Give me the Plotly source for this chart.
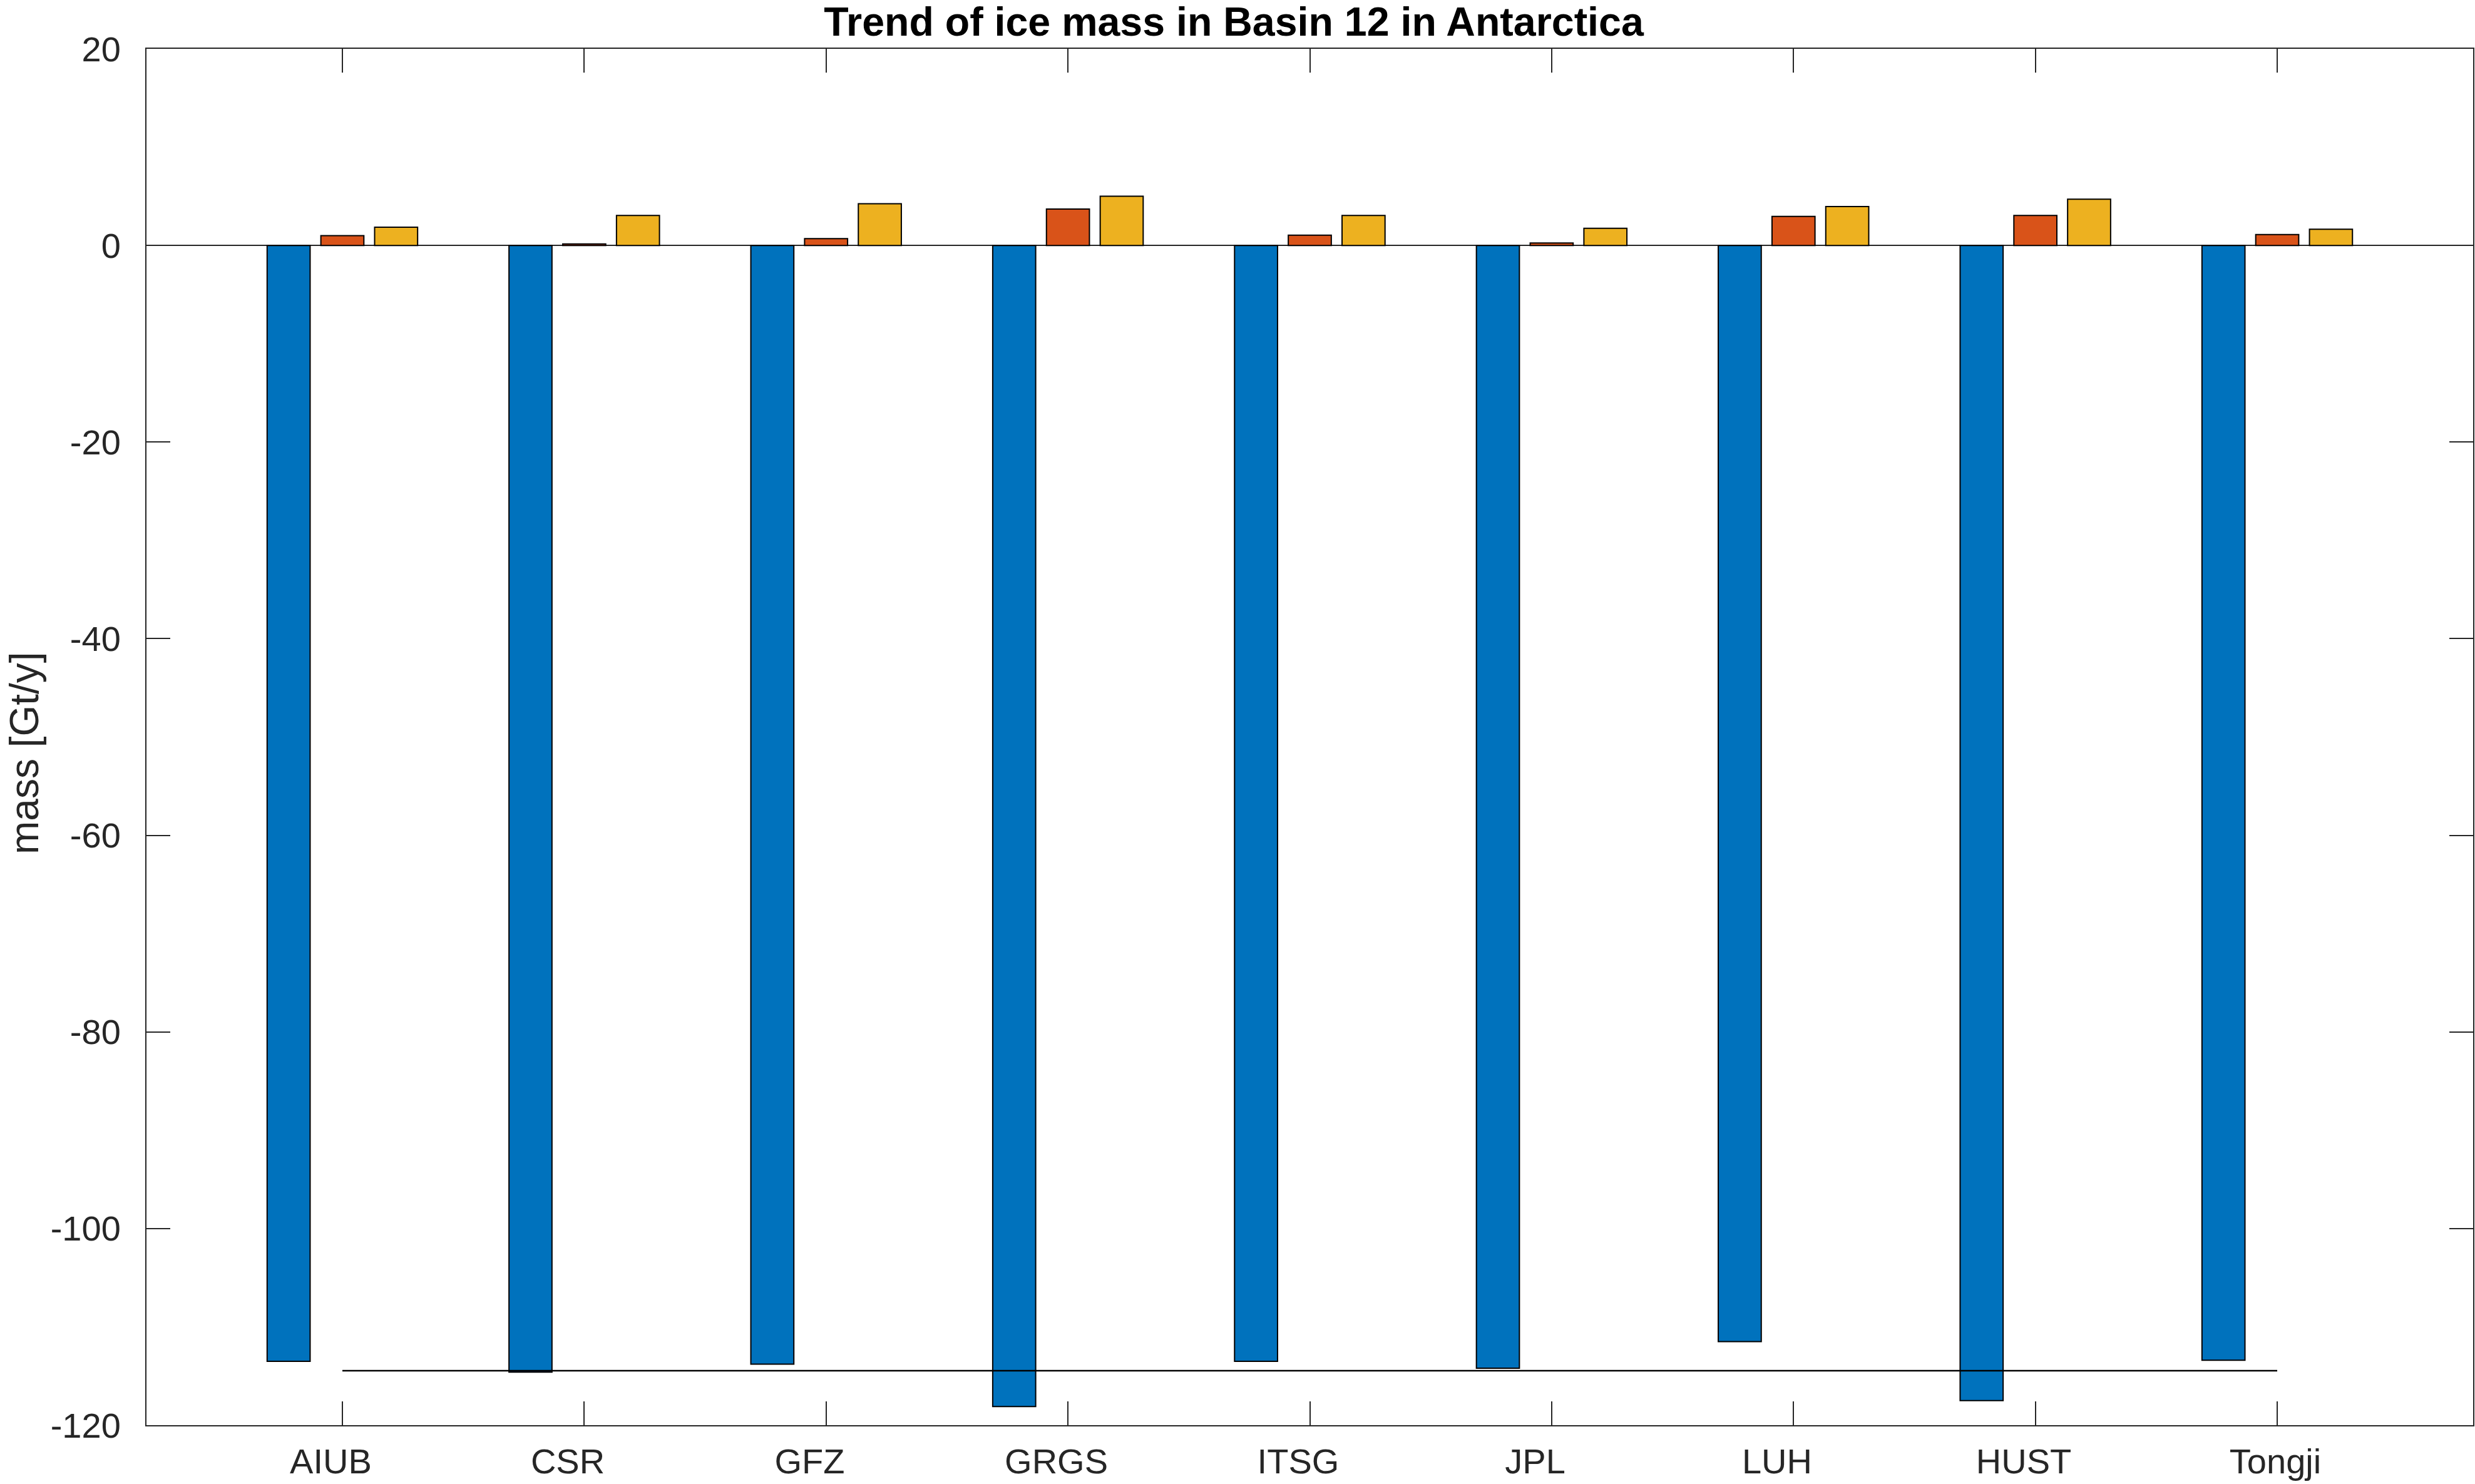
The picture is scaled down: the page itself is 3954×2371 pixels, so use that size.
import numpy as np
import plotly.graph_objects as go

# ---- data ----
centers = ["AIUB", "CSR", "GFZ", "GRGS", "ITSG", "JPL", "LUH", "HUST", "Tongji"]
series1 = [-113.5, -114.6, -113.8, -118.1, -113.5, -114.2, -111.5, -117.5, -113.4]
series2 = [1.0, 0.15, 0.7, 3.7, 1.05, 0.25, 2.95, 3.05, 1.1]
series3 = [1.85, 3.05, 4.25, 5.0, 3.05, 1.75, 3.95, 4.7, 1.65]
y_ticks = [-120, -100, -80, -60, -40, -20, 0, 20]
title_text = "Trend of ice mass in Basin 12 in Antarctica"
ylabel_text = "mass [Gt/y]"

W, H = 3954, 2371
AX = "#262626"
FONT = "Liberation Sans, Arial, Helvetica, sans-serif"

x = list(range(1, len(centers) + 1))
mean_val = float(np.mean(series1))

# MATLAB pads char-matrix labels to equal length
maxlen = max(len(c) for c in centers)
ticktext = [c + "\u00a0" * (maxlen - len(c)) for c in centers]

fig = go.Figure()
colors = ["#0072BD", "#D95319", "#EDB120"]
for name, vals, col in zip(["series 1", "series 2", "series 3"],
                           [series1, series2, series3], colors):
    fig.add_trace(go.Bar(
        x=x, y=vals, name=name,
        marker=dict(color=col, line=dict(color="#000000", width=2)),
        showlegend=False,
    ))

fig.add_trace(go.Scatter(
    x=[x[0], x[-1]], y=[mean_val, mean_val], mode="lines",
    line=dict(color="#000000", width=2.5), showlegend=False,
))

fig.update_layout(
    width=W, height=H,
    barmode="group", bargap=1/3, bargroupgap=0.2,
    paper_bgcolor="white", plot_bgcolor="white",
    margin=dict(l=234, r=3, t=78, b=94, autoexpand=False),
    font=dict(family=FONT, size=56, color=AX),
    title=dict(text="<b>" + title_text + "</b>", x=1971 / W, xref="container",
               xanchor="center", y=1 - 34 / H, yref="container", yanchor="middle",
               font=dict(family=FONT, size=64.5, color="#000000")),
)

fig.update_xaxes(
    range=[0.19, 9.81], tickmode="array", tickvals=x, ticktext=ticktext,
    ticks="inside", ticklen=38, tickwidth=2, tickcolor=AX,
    showline=True, linecolor=AX, linewidth=2, mirror="ticks",
    showgrid=False, zeroline=False,
    tickfont=dict(family=FONT, size=56, color=AX),
    ticklabelshift=-3, ticklabelstandoff=8,
)
fig.update_yaxes(
    range=[-120, 20], tickmode="array", tickvals=y_ticks,
    ticktext=[str(v) for v in y_ticks],
    ticks="inside", ticklen=38, tickwidth=2, tickcolor=AX,
    showline=True, linecolor=AX, linewidth=2, mirror="ticks",
    showgrid=False, zeroline=True, zerolinecolor=AX, zerolinewidth=2,
    tickfont=dict(family=FONT, size=56, color=AX),
    ticklabelstandoff=28,
)

fig.add_annotation(
    text=ylabel_text, textangle=-90, showarrow=False,
    xref="paper", yref="paper",
    x=(39 - 234) / (W - 234 - 3), y=1 - (1203 - 78) / (H - 78 - 94),
    xanchor="center", yanchor="middle",
    font=dict(family=FONT, size=64, color=AX),
)

fig.write_html(
    "out.html",
    config={"displayModeBar": False},
    post_script="document.body.style.margin='0';document.body.style.padding='0';",
)
